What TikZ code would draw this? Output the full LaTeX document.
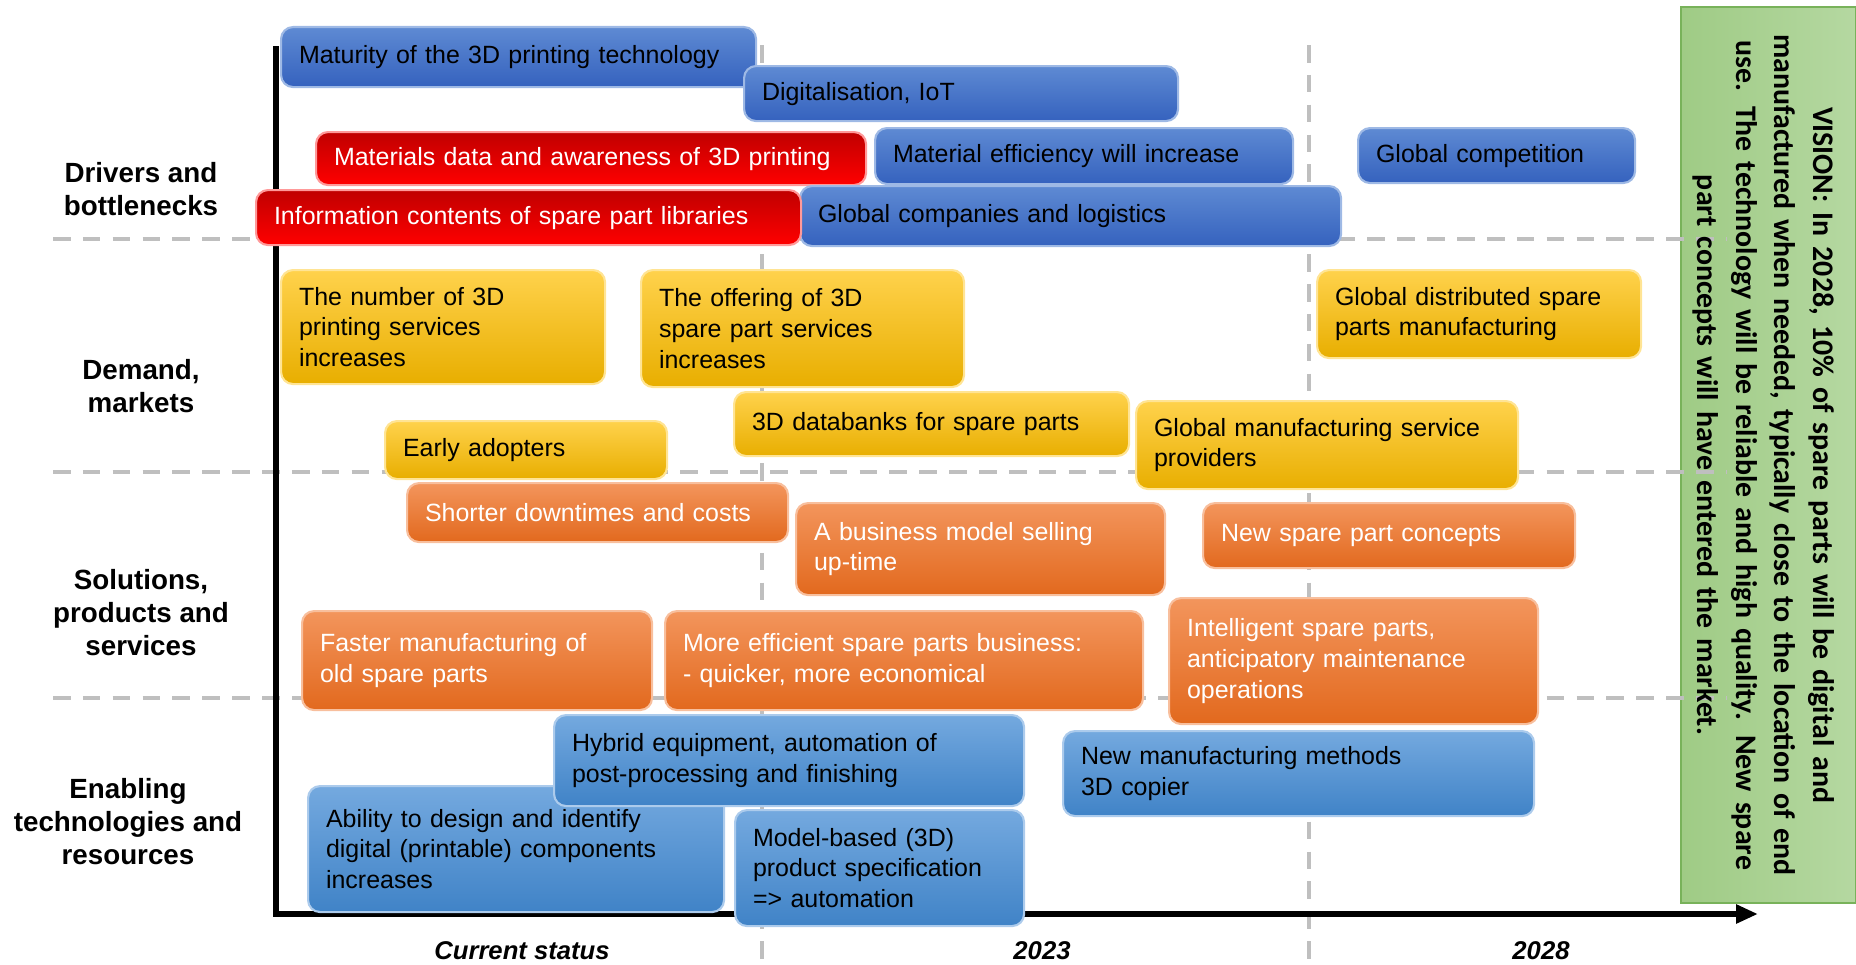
\documentclass[tikz,border=0pt]{standalone}
\usepackage{fontspec}
\setmainfont{Liberation Sans}
\newfontfamily\visionfont{Carlito}
\usetikzlibrary{arrows.meta}
\definecolor{drvtop}{HTML}{5E8AD3}
\definecolor{drvbot}{HTML}{3562BE}
\definecolor{redtop}{HTML}{C00000}
\definecolor{redbot}{HTML}{FF0000}
\definecolor{demtop}{HTML}{FFD24C}
\definecolor{dembot}{HTML}{E8AE00}
\definecolor{soltop}{HTML}{F3955C}
\definecolor{solbot}{HTML}{E2691E}
\definecolor{enatop}{HTML}{74A9DF}
\definecolor{enabot}{HTML}{4083C7}
\definecolor{visleft}{HTML}{9FCB85}
\definecolor{visright}{HTML}{B5D8A1}
\definecolor{visedge}{HTML}{78B25A}
\definecolor{gridgray}{HTML}{BFBFBF}

\begin{document}
\begin{tikzpicture}[y=-1cm,
    box/.style 2 args={anchor=north west, rounded corners=1.2mm, minimum width=#1cm, minimum height=#2cm,
      text width=#1cm-3.6mm, inner xsep=1.8mm, inner ysep=0pt, align=left, line width=0.6pt,
      font=\fontsize{7.1}{8.8}\selectfont},
    drvbox/.style={top color=drvtop, bottom color=drvbot, draw=drvtop!60!white},
    redbox/.style={top color=redtop, bottom color=redbot, draw=redbot!40!white, text=white},
    dembox/.style={top color=demtop, bottom color=dembot, draw=demtop!60!white},
    solbox/.style={top color=soltop, bottom color=solbot, draw=soltop!60!white, text=white},
    enabox/.style={top color=enatop, bottom color=enabot, draw=enatop!60!white},
    rowlabel/.style={align=center, font=\fontsize{7.9}{9.4}\selectfont\bfseries},
    timelabel/.style={font=\fontsize{7.3}{8.8}\selectfont\bfseries\itshape},
    gridline/.style={gridgray, line width=1pt, dash pattern=on 5pt off 3.5pt}]
  \useasboundingbox (0,0) rectangle (18.56,9.64);

  % vision box on the right
  \node[anchor=north west, minimum width=1.75cm, minimum height=8.96cm, inner sep=0pt,
    left color=visleft, right color=visright, draw=visedge, line width=0.6pt] (visbox) at (16.80,0.06) {};

  % grid
  \draw[gridline] (0.53,2.39) -- (17.27,2.39);
  \draw[gridline] (0.53,4.72) -- (17.27,4.72);
  \draw[gridline] (0.53,6.98) -- (17.27,6.98);
  \draw[gridline] (7.62,0.45) -- (7.62,9.59);
  \draw[gridline] (13.09,0.45) -- (13.09,9.59);

  \node[rotate=-90, align=center, text width=8.8cm, inner sep=0pt,
    font=\visionfont\bfseries\fontsize{8.5}{11}\selectfont] (vision) at ([xshift=-0.05cm]visbox.center)
    {VISION: In 2028, 10\% of spare parts will be digital and\\
     manufactured when needed, typically close to the location of end\\
     use. The technology will be reliable and high quality. New spare\\
     part concepts will have entered the market.};

  % axes
  \coordinate (ytop) at (2.76,0.46);
  \coordinate (orig) at (2.76,9.14);
  \coordinate (xend) at (17.58,9.14);
  \draw[line width=1.6pt, -{Triangle[length=2.2mm, width=1.8mm]}] (ytop) -- (orig) -- (xend);

  % row labels
  \node[rowlabel] (drivers) at (1.41,1.89) {Drivers and\\bottlenecks};
  \node[rowlabel] (demand) at (1.41,3.86) {Demand,\\markets};
  \node[rowlabel] (solutions) at (1.41,6.13) {Solutions,\\products and\\services};
  \node[rowlabel] (enabling) at (1.28,8.22) {Enabling\\technologies and\\resources};

  % time labels
  \node[timelabel] (now) at (5.22,9.51) {Current status};
  \node[timelabel] (y2023) at (10.42,9.51) {2023};
  \node[timelabel] (y2028) at (15.41,9.51) {2028};

  % drivers and bottlenecks
  \node[box={4.75}{0.60}, drvbox] (maturity) at (2.80,0.26) {Maturity of the 3D printing technology};
  \node[box={4.34}{0.55}, drvbox] (digital) at (7.43,0.65) {Digitalisation, IoT};
  \node[box={5.50}{0.53}, redbox] (matdata) at (3.15,1.31) {Materials data and awareness of 3D printing};
  \node[box={4.18}{0.56}, drvbox] (mateff) at (8.74,1.27) {Material efficiency will increase};
  \node[box={2.77}{0.55}, drvbox] (competition) at (13.57,1.27) {Global competition};
  \node[box={5.41}{0.60}, drvbox] (logistics) at (7.99,1.85) {Global companies and logistics};
  \node[box={5.45}{0.55}, redbox] (libraries) at (2.55,1.89) {Information contents of spare part libraries};

  % demand, markets
  \node[box={3.24}{1.14}, dembox] (services) at (2.80,2.69) {The number of 3D\\printing services\\increases};
  \node[box={3.23}{1.17}, dembox] (offering) at (6.40,2.69) {The offering of 3D\\spare part services\\increases};
  \node[box={3.24}{0.88}, dembox] (distributed) at (13.16,2.69) {Global distributed spare\\parts manufacturing};
  \node[box={2.82}{0.58}, dembox] (adopters) at (3.84,4.20) {Early adopters};
  \node[box={3.95}{0.64}, dembox] (databanks) at (7.33,3.91) {3D databanks for spare parts};
  \node[box={3.82}{0.88}, dembox] (providers) at (11.35,4.00) {Global manufacturing service\\providers};

  % solutions, products and services
  \node[box={3.81}{0.59}, solbox] (downtimes) at (4.06,4.82) {Shorter downtimes and costs};
  \node[box={3.69}{0.92}, solbox] (uptime) at (7.95,5.02) {A business model selling\\up-time};
  \node[box={3.72}{0.65}, solbox] (concepts) at (12.02,5.02) {New spare part concepts};
  \node[box={3.50}{0.99}, solbox] (faster) at (3.01,6.10) {Faster manufacturing of\\old spare parts};
  \node[box={4.78}{0.99}, solbox] (business) at (6.64,6.10) {More efficient spare parts business:\\- quicker, more economical};
  \node[box={3.69}{1.26}, solbox] (intelligent) at (11.68,5.97) {Intelligent spare parts,\\anticipatory maintenance\\operations};

  % enabling technologies and resources
  \node[box={4.16}{1.26}, enabox] (ability) at (3.07,7.85) {Ability to design and identify\\digital (printable) components\\increases};
  \node[box={4.70}{0.91}, enabox] (hybrid) at (5.53,7.14) {Hybrid equipment, automation of\\post-processing and finishing};
  \node[box={4.71}{0.85}, enabox] (methods) at (10.62,7.30) {New manufacturing methods\\3D copier};
  \node[box={2.89}{1.16}, enabox] (modelbased) at (7.34,8.09) {Model-based (3D)\\product specification\\=> automation};
\end{tikzpicture}
\end{document}
